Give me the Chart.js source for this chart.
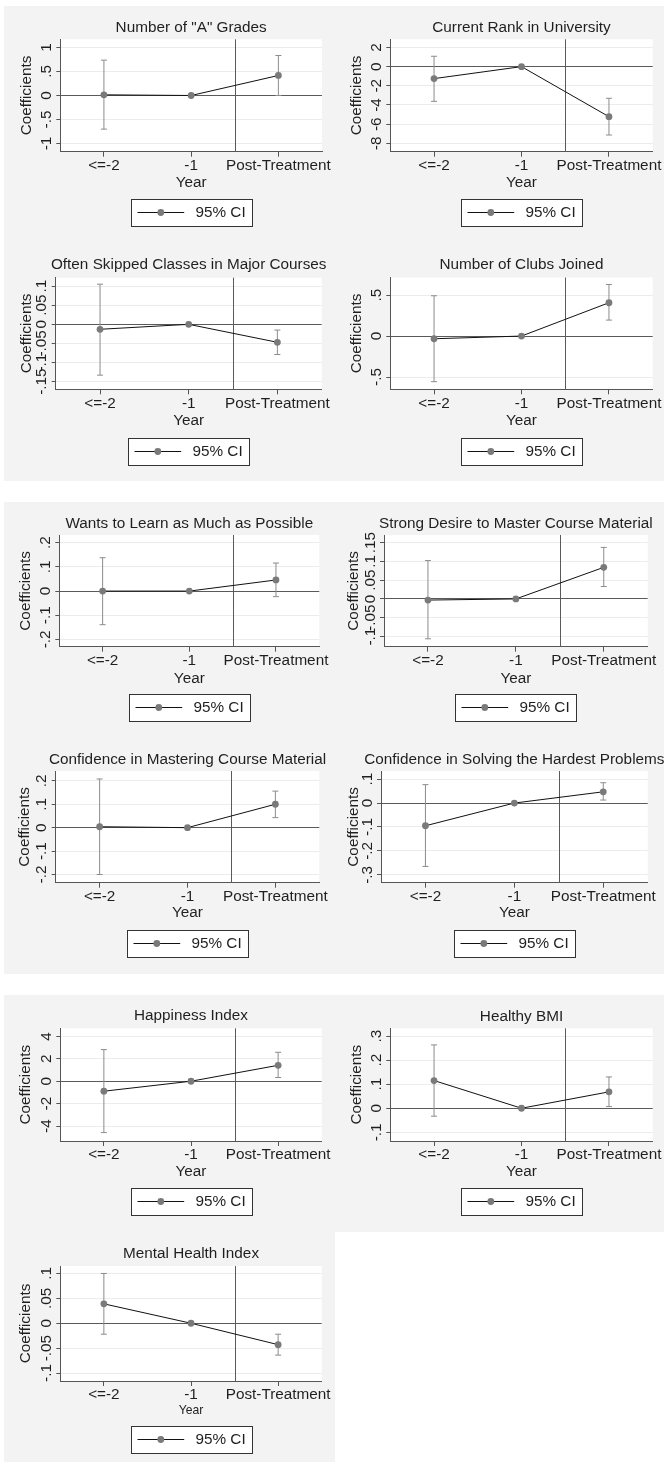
<!DOCTYPE html>
<html><head><meta charset="utf-8">
<script src="https://cdn.jsdelivr.net/npm/chart.js@4"></script>
<style>
html,body{margin:0;padding:0;background:#fff;}
body{width:664px;height:1464px;position:relative;overflow:hidden;}
.blk{position:absolute;background:#f3f3f3;}
canvas{position:absolute;}
</style></head><body>
<div class="blk" style="left:4px;top:6px;width:660px;height:475px"></div>
<div class="blk" style="left:4px;top:502px;width:660px;height:472px"></div>
<div class="blk" style="left:4px;top:995px;width:660px;height:467px"></div>
<div style="position:absolute;left:335px;top:1232px;width:329px;height:232px;background:#fff"></div>
<script>
// ---------------- data ----------------
const categories = ['<=-2', '-1', 'Post-Treatment'];
const legendLabel = '95% CI';
const xTitle = 'Year';
const yTitle = 'Coefficients';
const treatmentLine = 1.5; // vertical line between -1 and Post-Treatment

const titles = [
  'Number of "A" Grades',
  'Current Rank in University',
  'Often Skipped Classes in Major Courses',
  'Number of Clubs Joined',
  'Wants to Learn as Much as Possible',
  'Strong Desire to Master Course Material',
  'Confidence in Mastering Course Material',
  'Confidence in Solving the Hardest Problems',
  'Happiness Index',
  'Healthy BMI',
  'Mental Health Index'
];

const gradesCoef = [0.014, 0, 0.417];
const gradesLow  = [-0.70, null, 0.0];
const gradesHigh = [0.736, null, 0.833];
const gradesTicks = ['-1', '-.5', '0', '.5', '1'];
const gradesRange = [-1.17, 1.17];

const rankCoef = [-1.25, 0, -5.22];
const rankLow  = [-3.62, null, -7.13];
const rankHigh = [1.08, null, -3.30];
const rankTicks = ['-8', '-6', '-4', '-2', '0', '2'];
const rankRange = [-8.87, 2.85];

const skipCoef = [-0.013, 0, -0.047];
const skipLow  = [-0.133, null, -0.079];
const skipHigh = [0.105, null, -0.015];
const skipTicks = ['-.15', '-.1', '-.05', '0', '.05', '.1'];
const skipRange = [-0.170, 0.122];

const clubsCoef = [-0.033, 0, 0.407];
const clubsLow  = [-0.557, null, 0.195];
const clubsHigh = [0.492, null, 0.630];
const clubsTicks = ['-.5', '0', '.5'];
const clubsRange = [-0.65, 0.715];

const learnCoef = [0.0, 0, 0.046];
const learnLow  = [-0.139, null, -0.023];
const learnHigh = [0.138, null, 0.116];
const learnTicks = ['-.2', '-.1', '0', '.1', '.2'];
const learnRange = [-0.230, 0.232];

const desireCoef = [-0.003, 0, 0.084];
const desireLow  = [-0.106, null, 0.033];
const desireHigh = [0.102, null, 0.137];
const desireTicks = ['-.1', '-.05', '0', '.05', '.1', '.15'];
const desireRange = [-0.127, 0.170];

const masterCoef = [0.004, 0, 0.100];
const masterLow  = [-0.200, null, 0.043];
const masterHigh = [0.208, null, 0.156];
const masterTicks = ['-.2', '-.1', '0', '.1', '.2'];
const masterRange = [-0.235, 0.242];

const hardCoef = [-0.095, 0, 0.047];
const hardLow  = [-0.265, null, 0.0125];
const hardHigh = [0.077, null, 0.085];
const hardTicks = ['-.3', '-.2', '-.1', '0', '.1'];
const hardRange = [-0.333, 0.134];

const happyCoef = [-0.89, 0, 1.42];
const happyLow  = [-4.58, null, 0.33];
const happyHigh = [2.82, null, 2.58];
const happyTicks = ['-4', '-2', '0', '2', '4'];
const happyRange = [-5.33, 4.72];

const bmiCoef = [0.115, 0, 0.068];
const bmiLow  = [-0.033, null, 0.007];
const bmiHigh = [0.263, null, 0.130];
const bmiTicks = ['-.1', '0', '.1', '.2', '.3'];
const bmiRange = [-0.136, 0.332];

const mentalCoef = [0.039, 0, -0.043];
const mentalLow  = [-0.022, null, -0.064];
const mentalHigh = [0.100, null, -0.022];
const mentalTicks = ['-.1', '-.05', '0', '.05', '.1'];
const mentalRange = [-0.116, 0.115];

const panels = [
  [gradesCoef, gradesLow, gradesHigh, gradesTicks, gradesRange],
  [rankCoef, rankLow, rankHigh, rankTicks, rankRange],
  [skipCoef, skipLow, skipHigh, skipTicks, skipRange],
  [clubsCoef, clubsLow, clubsHigh, clubsTicks, clubsRange],
  [learnCoef, learnLow, learnHigh, learnTicks, learnRange],
  [desireCoef, desireLow, desireHigh, desireTicks, desireRange],
  [masterCoef, masterLow, masterHigh, masterTicks, masterRange],
  [hardCoef, hardLow, hardHigh, hardTicks, hardRange],
  [happyCoef, happyLow, happyHigh, happyTicks, happyRange],
  [bmiCoef, bmiLow, bmiHigh, bmiTicks, bmiRange],
  [mentalCoef, mentalLow, mentalHigh, mentalTicks, mentalRange]
];

// ---------------- layout (page coordinates) ----------------
// x0, y0, plotL, plotR, plotT, plotB, titleY, yTitleX, xLabelY, xTitleY, legendTop, xTitleSize
const geometry = [
  [0, 0, 60.3, 322, 39.3, 151.7, 27.5, 26.7, 165.7, 182.7, 199.3, 15.3],
  [332, 0, 390.3, 652.7, 39.3, 151.7, 27.7, 356.7, 165.7, 182.7, 199.3, 15.3],
  [0, 238, 55.7, 321.7, 277.7, 389.3, 264.3, 27, 403.3, 420.7, 438.3, 15.3],
  [332, 238, 390.3, 652.7, 277.5, 389.3, 265, 356.7, 403.3, 420.7, 437.5, 15.3],
  [0, 496, 59.3, 319.3, 535, 646.7, 523.3, 26, 661, 678.3, 694, 15.3],
  [332, 496, 384, 647.7, 535, 646.7, 523.3, 353.3, 661, 678.3, 694, 15.3],
  [0, 732, 55.7, 319.3, 771, 882.7, 759.3, 25, 896.7, 912.3, 930, 15.3],
  [332, 732, 381, 647.7, 771, 882.7, 759.3, 354, 897, 912.3, 930, 15.3],
  [0, 989, 60.3, 321.7, 1028.3, 1141, 1016, 26, 1155, 1171.7, 1187.5, 15.3],
  [332, 989, 390.3, 652.7, 1028.3, 1141, 1016.5, 356.7, 1155, 1171.7, 1187.5, 15.3],
  [0, 1227, 60.3, 321.7, 1266, 1381, 1254, 26, 1395, 1410.7, 1426, 12.2]
];

const CW = 332, CH = 236;
const FONT = "'Liberation Sans', Arial, Helvetica, sans-serif";
const FS = 15.3;
const TXT = '#1f1f1f', AXIS = '#555555', GRID = '#ececec', REF = '#5a5a5a';
const LINE = '#111111', MARK = '#7a7a7a', CIC = '#8c8c8c';

const panelPlugin = {
  id: 'panel',
  beforeDraw(chart) {
    const {ctx, chartArea: a} = chart;
    ctx.save();
    ctx.fillStyle = '#ffffff';
    ctx.fillRect(a.left, a.top, a.right - a.left, a.bottom - a.top);
    ctx.restore();
  },
  beforeDatasetsDraw(chart, args, o) {
    const {ctx, chartArea: a, scales} = chart;
    const x = Math.round(scales.x.getPixelForValue(o.vline)) + 0.5;
    ctx.save();
    ctx.strokeStyle = REF; ctx.lineWidth = 1;
    ctx.beginPath(); ctx.moveTo(x, a.top); ctx.lineTo(x, a.bottom); ctx.stroke();
    ctx.restore();
  },
  afterDraw(chart, args, o) {
    const {ctx, chartArea: a, scales} = chart;
    const cx = (a.left + a.right) / 2;
    ctx.save();
    ctx.fillStyle = TXT;
    ctx.font = FS + 'px ' + FONT;
    ctx.textAlign = 'center'; ctx.textBaseline = 'middle';
    ctx.fillText(o.title, cx, o.titleY);
    const ys = scales.y;
    ys.ticks.forEach(t => {
      const py = ys.getPixelForValue(t.value);
      ctx.save();
      ctx.translate(a.left - 9.5, py);
      ctx.rotate(-Math.PI / 2);
      ctx.textAlign = 'center'; ctx.textBaseline = 'alphabetic';
      ctx.fillText(t.label, 0, 0);
      ctx.restore();
    });
    const lw = 121, lh = 27;
    const lx = Math.round(cx - lw / 2) + 0.5, ly = Math.round(o.legendTop) + 0.5;
    ctx.fillStyle = '#ffffff'; ctx.fillRect(lx, ly, lw, lh);
    ctx.strokeStyle = '#333333'; ctx.lineWidth = 1; ctx.strokeRect(lx, ly, lw, lh);
    const my = Math.round(ly + lh / 2) - 0.5;
    ctx.strokeStyle = LINE; ctx.beginPath(); ctx.moveTo(lx + 6, my); ctx.lineTo(lx + 52.7, my); ctx.stroke();
    ctx.fillStyle = MARK; ctx.beginPath(); ctx.arc(lx + 29.3, my, 3.4, 0, Math.PI * 2); ctx.fill();
    ctx.fillStyle = TXT; ctx.textAlign = 'left'; ctx.textBaseline = 'middle';
    ctx.fillText(o.legendText, lx + 64, my + 0.5);
    ctx.restore();
  }
};

panels.forEach((p, i) => {
  const [coef, lo, hi, yLabels, range] = p;
  const g = geometry[i];
  const x0 = g[0], y0 = g[1];
  const l = g[2] - x0, r = g[3] - x0, t = g[4] - y0, b = g[5] - y0;
  const tickLen = 5;
  const xPad = (g[8] - y0) - b - tickLen - FS / 2;
  const yearLH = g[11] * 1.2;
  const xH = (g[9] - y0) + yearLH / 2 - b;
  const yTitlePad = (g[7] - x0) - FS * 1.2 / 2;

  const ciData = [];
  categories.forEach((c, k) => {
    if (lo[k] !== null && hi[k] !== null) {
      ciData.push({x: c, y: lo[k]}, {x: c, y: hi[k]}, {x: c, y: null});
    }
  });

  const cv = document.createElement('canvas');
  cv.width = CW; cv.height = CH;
  cv.style.left = x0 + 'px'; cv.style.top = y0 + 'px';
  cv.style.width = CW + 'px'; cv.style.height = CH + 'px';
  document.body.appendChild(cv);

  new Chart(cv, {
    type: 'line',
    data: {
      labels: categories,
      datasets: [
        {data: coef, borderColor: LINE, borderWidth: 1, tension: 0,
         pointRadius: 3.4, pointBackgroundColor: MARK, pointBorderColor: MARK, pointBorderWidth: 0, order: 0},
        {data: ciData, borderColor: CIC, borderWidth: 1, spanGaps: false,
         pointStyle: 'line', pointRadius: 3, pointBorderColor: CIC, pointBorderWidth: 1, order: 1}
      ]
    },
    options: {
      responsive: false, animation: false, events: [], devicePixelRatio: 1,
      layout: {padding: {left: 0, right: CW - r, top: t, bottom: CH - b - xH}},
      plugins: {
        legend: {display: false}, tooltip: {enabled: false}, title: {display: false},
        panel: {title: titles[i], titleY: g[6] - y0, legendTop: g[10] - y0, vline: treatmentLine, legendText: legendLabel}
      },
      scales: {
        x: {
          type: 'category', offset: true,
          grid: {display: true, drawOnChartArea: false, drawTicks: true, tickLength: tickLen, tickColor: AXIS, tickWidth: 1},
          border: {display: true, color: AXIS, width: 1},
          ticks: {autoSkip: false, maxRotation: 0, minRotation: 0, padding: xPad, color: TXT,
                  font: {family: FONT, size: FS, lineHeight: 1}},
          title: {display: true, text: xTitle, color: TXT, padding: {top: 0, bottom: 0},
                  font: {family: FONT, size: g[11], lineHeight: 1.2}},
          afterFit: s => { s.height = xH; s.paddingLeft = 0; s.paddingRight = 0; }
        },
        y: {
          type: 'linear', min: range[0], max: range[1],
          afterBuildTicks: s => { s.ticks = yLabels.map(v => ({value: Number(v)})); },
          grid: {display: true, drawOnChartArea: true, lineWidth: 1,
                 color: c => (c.tick && c.tick.value === 0) ? REF : GRID,
                 drawTicks: true, tickLength: 4, tickColor: AXIS, tickWidth: 1},
          border: {display: true, color: AXIS, width: 1},
          ticks: {display: false, callback: (v, k) => yLabels[k]},
          title: {display: true, text: yTitle, color: TXT, padding: {top: yTitlePad, bottom: 0},
                  font: {family: FONT, size: FS, lineHeight: 1.2}},
          afterFit: s => { s.width = l; s.paddingTop = 0; s.paddingBottom = 0; }
        }
      }
    },
    plugins: [panelPlugin]
  });
});
</script>
</body></html>
